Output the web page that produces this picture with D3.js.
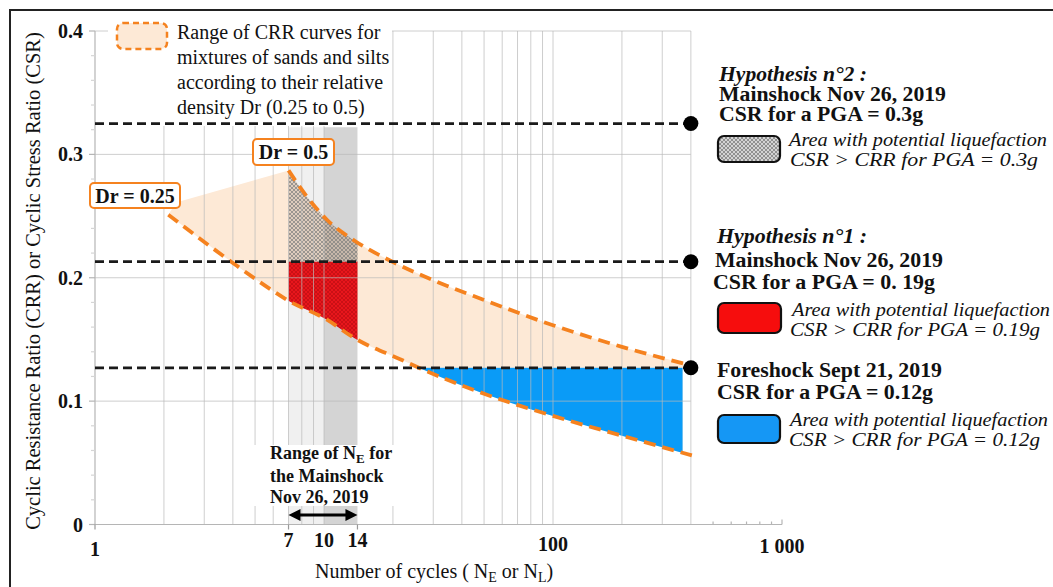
<!DOCTYPE html>
<html><head><meta charset="utf-8">
<script src="https://cdn.jsdelivr.net/npm/d3@7"></script>
<style>
body{margin:0;background:#fff}
svg{display:block}
text{font-family:"Liberation Serif","Times New Roman",serif;fill:#111}
</style>
</head><body>
<svg id="c" width="1053" height="587"></svg>
<script>
// ---------------- data ----------------
const xMajorTicks = [1, 100, 1000];
const xMajorLabels = ["1", "100", "1 000"];
const xRangeTicks = [7, 10, 14];
const xRangeLabels = ["7", "10", "14"];
const yTicks = [0, 0.1, 0.2, 0.3, 0.4];
const yTickLabels = ["0", "0.1", "0.2", "0.3", "0.4"];
const yMinorTicks = [0.02,0.04,0.06,0.08,0.12,0.14,0.16,0.18,0.22,0.24,0.26,0.28,0.32,0.34,0.36,0.38];
const gridN = [2,3,4,5,6,7,8,9,10,20,30,40,50,60,70,80,90,100,200,300,400];
const axisMinorN = [500,600,700,800,900,1000];

// CRR curve Dr = 0.25 (lower) and Dr = 0.5 (upper)
const lowerN   = [2.09, 4.0, 5.8, 6.9, 10.3, 13.6, 21.5, 30, 50, 100, 200, 404];
const lowerCSR = [0.251, 0.212, 0.191, 0.182, 0.166, 0.151, 0.134, 0.122, 0.106, 0.088, 0.072, 0.056];
const upperN   = [7, 8.4, 10.3, 13.6, 19.4, 30, 50, 100, 200, 400];
const upperCSR = [0.287, 0.266, 0.247, 0.230, 0.214, 0.198, 0.182, 0.1615, 0.144, 0.129];
// top-left edge of the CRR envelope
const envTopN   = [2.09, 2.26, 7];
const envTopCSR = [0.251, 0.261, 0.287];

// CSR levels: PGA 0.3g, 0.19g, 0.12g
const csrLevels = [0.325, 0.213, 0.127];
const csrEndN = 400;

// ranges
const bandLight = [7, 10];
const bandDark = [10, 14];
const bandTopCSR = 0.322;
const hatchRange = [7, 14];
const blueRange = [20, 368];

// texts
const envLegendLines = ["Range of CRR curves for", "mixtures of sands and silts", "according to their relative", "density Dr (0.25 to 0.5)"];
const rangeNote = ["the Mainshock", "Nov 26, 2019"];

// ---------------- chart ----------------
const svg = d3.select("#c");
const x = d3.scaleLog().domain([1, 1000]).range([95, 782]);
const y = d3.scaleLinear().domain([0, 0.4]).range([524.5, 31]);

const ORANGE = "#f5821f", PEACH = "#fde9d6";

const pts = (ns, vs) => ns.map((n, i) => ({n, v: vs[i]}));
const lowerPts = pts(lowerN, lowerCSR);
const upperPts = pts(upperN, upperCSR);
const envPts = pts(envTopN, envTopCSR);
const lineMono = d3.line().x(d => x(d.n)).y(d => y(d.v)).curve(d3.curveMonotoneX);

// frame
svg.append("rect").attr("x", 10).attr("y", 10).attr("width", 1200).attr("height", 800)
  .attr("fill", "#fff").attr("stroke", "#222").attr("stroke-width", 2);

const defs = svg.append("defs");
// clip: above lower curve
defs.append("clipPath").attr("id", "aboveLower").append("path")
  .attr("d", d3.area().x(d => x(d.n)).y0(y(0.4)).y1(d => y(d.v)).curve(d3.curveMonotoneX)(lowerPts));
defs.append("clipPath").attr("id", "belowUpper").append("path")
  .attr("d", d3.area().x(d => x(d.n)).y0(y(0)).y1(d => y(d.v)).curve(d3.curveMonotoneX)(upperPts));

function hatch(id, bg, stroke, sw) {
  const p = defs.append("pattern").attr("id", id).attr("patternUnits", "userSpaceOnUse")
    .attr("width", 4).attr("height", 4);
  if (bg) p.append("rect").attr("width", 4).attr("height", 4).attr("fill", bg);
  p.append("path").attr("d", "M0,0L4,4M4,0L0,4M-1,3L1,5M3,-1L5,1M-1,1L1,-1M3,5L5,3")
    .attr("stroke", stroke).attr("stroke-width", sw);
}
hatch("hG", "rgba(150,140,135,0.18)", "#7c7c7c", 0.7);
hatch("hR", "#e8161c", "rgba(120,0,0,0.45)", 0.6);
hatch("hGL", "#d4d4d4", "#808080", 0.8);

// peach envelope
{
  const upStr = lineMono(upperPts).replace(/^M/, "L");
  const d = "M" + x(envTopN[0]) + "," + y(0) +
    envPts.map(p => "L" + x(p.n) + "," + y(p.v)).join("") + upStr +
    "L" + x(upperN[upperN.length - 1]) + "," + y(csrLevels[2]) +
    "L" + x(blueRange[1]) + "," + y(csrLevels[2]) +
    "L" + x(blueRange[1]) + "," + y(0) + "Z";
  svg.append("g").attr("clip-path", "url(#aboveLower)")
    .append("path").attr("d", d).attr("fill", PEACH);
}

// gray bands of NE range
svg.append("rect").attr("x", x(bandLight[0])).attr("width", x(bandLight[1]) - x(bandLight[0]))
  .attr("y", y(bandTopCSR)).attr("height", y(0) - y(bandTopCSR)).attr("fill", "rgba(0,0,0,0.06)");
svg.append("rect").attr("x", x(bandDark[0])).attr("width", x(bandDark[1]) - x(bandDark[0]))
  .attr("y", y(bandTopCSR)).attr("height", y(0) - y(bandTopCSR)).attr("fill", "rgba(0,0,0,0.17)");

// blue area (PGA 0.12g)
svg.append("g").attr("clip-path", "url(#aboveLower)")
  .append("rect").attr("x", x(blueRange[0])).attr("width", x(blueRange[1]) - x(blueRange[0]))
  .attr("y", y(csrLevels[2])).attr("height", y(0) - y(csrLevels[2])).attr("fill", "#0a9bf7");
// red area (PGA 0.19g)
svg.append("g").attr("clip-path", "url(#aboveLower)")
  .append("rect").attr("x", x(hatchRange[0])).attr("width", x(hatchRange[1]) - x(hatchRange[0]))
  .attr("y", y(csrLevels[1])).attr("height", y(0) - y(csrLevels[1])).attr("fill", "url(#hR)");
// gray hatched area (PGA 0.3g)
svg.append("g").attr("clip-path", "url(#belowUpper)")
  .append("rect").attr("x", x(hatchRange[0])).attr("width", x(hatchRange[1]) - x(hatchRange[0]))
  .attr("y", y(0.4)).attr("height", y(csrLevels[1]) - y(0.4)).attr("fill", "url(#hG)");

// grid
const grid = svg.append("g").attr("stroke", "rgba(185,185,185,0.7)").attr("stroke-width", 1);
grid.selectAll("line.v").data(gridN).join("line")
  .attr("x1", d => x(d)).attr("x2", d => x(d)).attr("y1", y(0)).attr("y2", y(0.4));
grid.selectAll("line.h").data(yTicks.slice(1)).join("line")
  .attr("x1", x(1)).attr("x2", x(csrEndN)).attr("y1", d => y(d)).attr("y2", d => y(d));

// axes
const ax = svg.append("g").attr("stroke", "#b5b5b5").attr("stroke-width", 1.2);
ax.append("line").attr("x1", x(1)).attr("x2", x(1000)).attr("y1", y(0)).attr("y2", y(0));
ax.append("line").attr("x1", x(1)).attr("x2", x(1)).attr("y1", y(0)).attr("y2", y(0.4));
ax.selectAll("line.ym").data(yTicks).join("line")
  .attr("x1", x(1) - 6).attr("x2", x(1)).attr("y1", d => y(d)).attr("y2", d => y(d));
ax.selectAll("line.yn").data(yMinorTicks).join("line")
  .attr("x1", x(1) - 4).attr("x2", x(1)).attr("y1", d => y(d)).attr("y2", d => y(d)).attr("stroke", "#d5d5d5");
ax.selectAll("line.xn").data(axisMinorN).join("line")
  .attr("x1", d => x(d)).attr("x2", d => x(d)).attr("y1", y(0)).attr("y2", d => y(0) - (d === 1000 ? 5 : 3));
ax.selectAll("line.xr").data([1, 7, 14]).join("line")
  .attr("x1", d => x(d)).attr("x2", d => x(d)).attr("y1", y(0)).attr("y2", y(0) + 5).attr("stroke", "#999");

// white backgrounds behind annotations
svg.append("rect").attr("x", 108).attr("y", 14).attr("width", 284).attr("height", 112).attr("fill", "#fff");
svg.append("rect").attr("x", 245).attr("y", 445).attr("width", 160).attr("height", 61).attr("fill", "#fff");

// CRR curves
svg.append("path").attr("d", lineMono(lowerPts)).attr("fill", "none").attr("stroke", ORANGE)
  .attr("stroke-width", 3.8).attr("stroke-dasharray", "12,7");
svg.append("path").attr("d", lineMono(upperPts)).attr("fill", "none").attr("stroke", ORANGE)
  .attr("stroke-width", 3.8).attr("stroke-dasharray", "12,7");

// CSR dashed lines + dots
svg.selectAll("line.csr").data(csrLevels).join("line")
  .attr("x1", x(1)).attr("x2", x(csrEndN)).attr("y1", d => y(d)).attr("y2", d => y(d))
  .attr("stroke", "#1a1a1a").attr("stroke-width", 2.8).attr("stroke-dasharray", "9,5");
svg.selectAll("circle.csr").data(csrLevels).join("circle")
  .attr("cx", x(csrEndN)).attr("cy", d => y(d)).attr("r", 7.5).attr("fill", "#000");

// y tick labels
svg.selectAll("text.yt").data(yTicks).join("text")
  .attr("x", 83).attr("y", d => y(d) + 7).attr("text-anchor", "end")
  .attr("font-weight", "bold").attr("font-size", 20).text((d, i) => yTickLabels[i]);
// x tick labels
const xLabY = [556, 551, 553];
svg.selectAll("text.xt").data(xMajorTicks).join("text")
  .attr("x", d => x(d)).attr("y", (d, i) => xLabY[i]).attr("text-anchor", "middle")
  .attr("font-weight", "bold").attr("font-size", 20).text((d, i) => xMajorLabels[i]);
svg.selectAll("text.xr").data(xRangeTicks).join("text")
  .attr("x", d => x(d)).attr("y", 547).attr("text-anchor", "middle")
  .attr("font-weight", "bold").attr("font-size", 20).text((d, i) => xRangeLabels[i]);

// axis titles
{
  const t = svg.append("text").attr("x", 315).attr("y", 578).attr("font-size", 20);
  t.append("tspan").text("Number of cycles ( N");
  t.append("tspan").attr("dy", 4).attr("font-size", 14).text("E");
  t.append("tspan").attr("dy", -4).text(" or N");
  t.append("tspan").attr("dy", 4).attr("font-size", 14).text("L");
  t.append("tspan").attr("dy", -4).text(")");
}
svg.append("text").attr("transform", "translate(40,281) rotate(-90)").attr("text-anchor", "middle")
  .attr("font-size", 20.5).text("Cyclic Resistance Ratio (CRR) or Cyclic Stress Ratio (CSR)");

// envelope legend
svg.append("rect").attr("x", 117).attr("y", 23).attr("width", 50).attr("height", 26).attr("rx", 6)
  .attr("fill", PEACH).attr("stroke", ORANGE).attr("stroke-width", 2.5).attr("stroke-dasharray", "6,4");
svg.selectAll("text.el").data(envLegendLines).join("text")
  .attr("x", 177).attr("y", (d, i) => 39 + i * 25).attr("font-size", 20).text(d => d);

// Dr labels
function drLabel(x0, y0, w, h, txt) {
  svg.append("rect").attr("x", x0).attr("y", y0).attr("width", w).attr("height", h).attr("rx", 4)
    .attr("fill", "#fff").attr("stroke", ORANGE).attr("stroke-width", 2);
  svg.append("text").attr("x", x0 + w / 2).attr("y", y0 + h / 2 + 7).attr("text-anchor", "middle")
    .attr("font-weight", "bold").attr("font-size", 20).text(txt);
}
drLabel(90, 183, 90, 25, "Dr = 0.25");
drLabel(253, 139, 81, 26, "Dr = 0.5");

// range of NE note
{
  const t = svg.append("text").attr("x", 270).attr("y", 459).attr("font-weight", "bold").attr("font-size", 18);
  t.append("tspan").text("Range of N");
  t.append("tspan").attr("dy", 4).attr("font-size", 13).text("E");
  t.append("tspan").attr("dy", -4).text(" for");
  svg.selectAll("text.rn").data(rangeNote).join("text")
    .attr("x", 270).attr("y", (d, i) => 482 + i * 21).attr("font-weight", "bold").attr("font-size", 18).text(d => d);
  const ay = 515, a0 = x(7), a1 = x(14);
  svg.append("line").attr("x1", a0 + 8).attr("x2", a1 - 8).attr("y1", ay).attr("y2", ay)
    .attr("stroke", "#000").attr("stroke-width", 3);
  svg.append("path").attr("d", `M${a0},${ay}L${a0 + 12},${ay - 6}L${a0 + 12},${ay + 6}Z`).attr("fill", "#000");
  svg.append("path").attr("d", `M${a1},${ay}L${a1 - 12},${ay - 6}L${a1 - 12},${ay + 6}Z`).attr("fill", "#000");
}

// right legend
function boldLine(txt, x0, yb, w, italic) {
  svg.append("text").attr("x", x0).attr("y", yb).attr("font-weight", "bold")
    .attr("font-style", italic ? "italic" : "normal").attr("font-size", 20.5)
    .attr("textLength", w).attr("lengthAdjust", "spacingAndGlyphs").text(txt);
}
function itLine(txt, x0, yb, w) {
  svg.append("text").attr("x", x0).attr("y", yb).attr("font-style", "italic").attr("font-size", 18.5)
    .attr("fill", "#333").attr("textLength", w).attr("lengthAdjust", "spacingAndGlyphs").text(txt);
}
function swatch(x0, y0, w, h, fill) {
  svg.append("rect").attr("x", x0).attr("y", y0).attr("width", w).attr("height", h).attr("rx", 6)
    .attr("fill", fill).attr("stroke", "#111").attr("stroke-width", 2.2);
}
// hypothesis 2
boldLine("Hypothesis n°2 :", 719, 81, 148, true);
boldLine("Mainshock Nov 26, 2019", 719, 101, 227);
boldLine("CSR for a PGA = 0.3g", 719, 121, 204);
swatch(718, 136, 62, 26, "url(#hGL)");
itLine("Area with potential liquefaction", 789, 146, 258);
itLine("CSR > CRR for PGA = 0.3g", 790, 166, 248);
// hypothesis 1
boldLine("Hypothesis n°1 :", 717, 243, 150, true);
boldLine("Mainshock Nov 26, 2019", 715, 267, 228);
boldLine("CSR for a PGA = 0. 19g", 713, 289, 222);
swatch(718, 303, 63, 30, "#f60d0d");
itLine("Area with potential liquefaction", 792, 316, 258);
itLine("CSR > CRR for PGA = 0.19g", 790, 336, 250);
// foreshock
boldLine("Foreshock Sept 21, 2019", 717, 377, 225);
boldLine("CSR for a PGA = 0.12g", 717, 399, 216);
swatch(718, 415, 62, 28, "#1597f5");
itLine("Area with potential liquefaction", 790, 426, 258);
itLine("CSR > CRR for PGA = 0.12g", 789, 446, 251);
</script>
</body></html>
